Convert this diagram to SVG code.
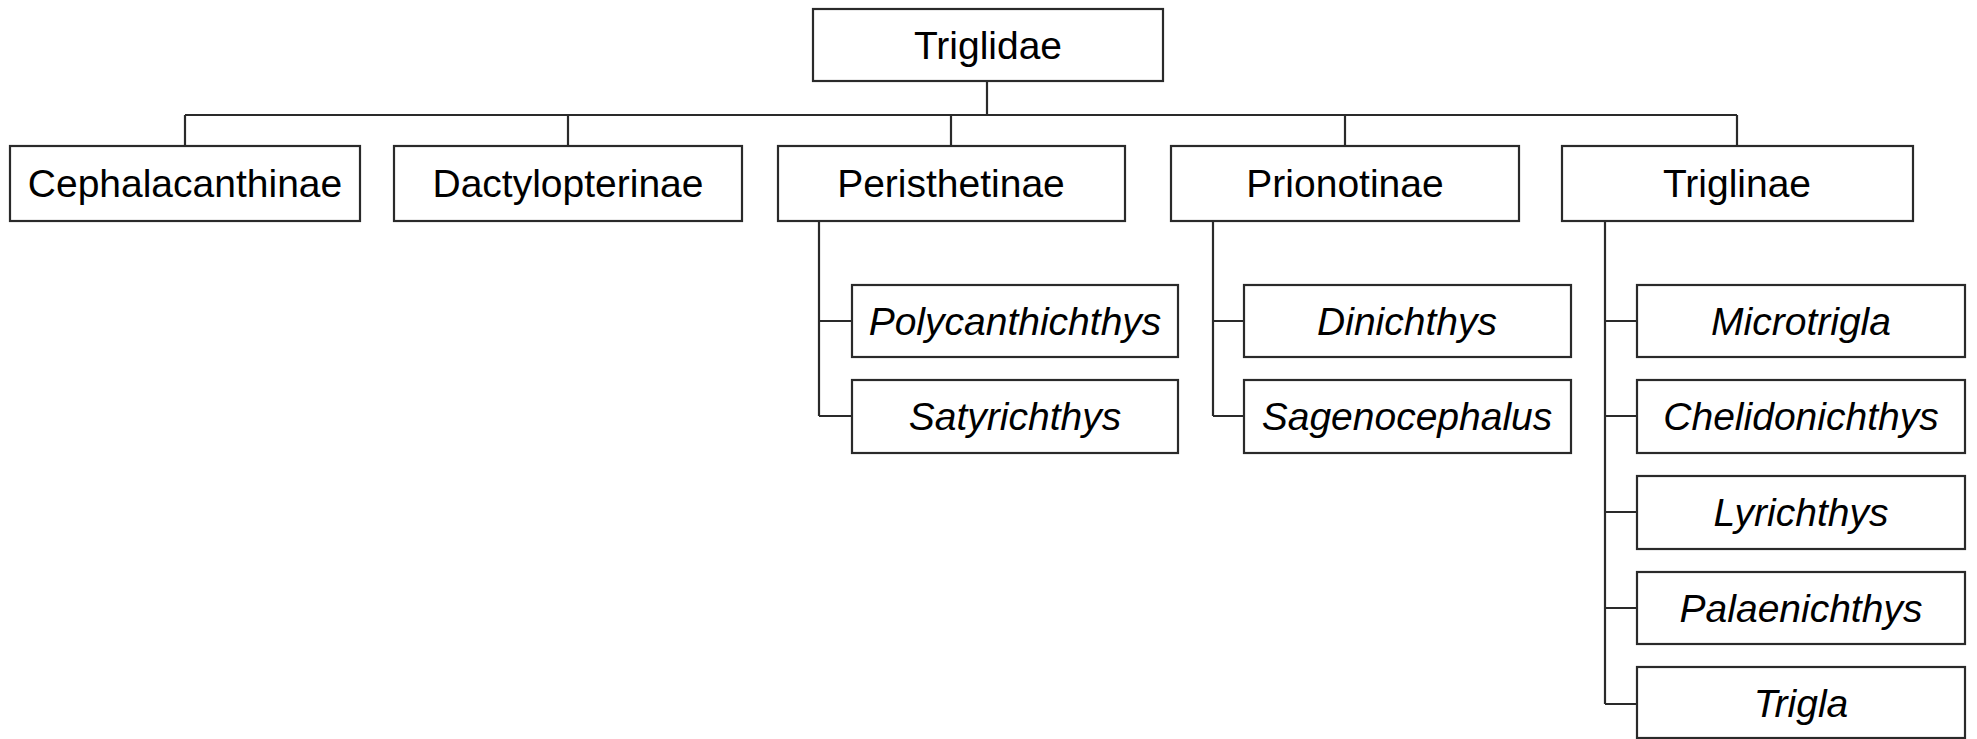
<svg xmlns="http://www.w3.org/2000/svg" width="1977" height="739" viewBox="0 0 1977 739">
<style>
.box{fill:#fff;stroke:#2a2a2a;stroke-width:2.2}
.ln{fill:none;stroke:#2a2a2a;stroke-width:2.2}
.t{font-family:"Liberation Sans",Arial,sans-serif;font-size:39px;fill:#000;text-anchor:middle}
.i{font-style:italic}
</style>
<rect width="1977" height="739" fill="#fff"/>
<g id="connectors" class="ln">
<path d="M987,81 V115 M185,115 H1737 M185,115 V146 M568,115 V146 M951,115 V146 M1345,115 V146 M1737,115 V146"/>
<path d="M819,221 V416 M819,321 H852 M819,416 H852"/>
<path d="M1213,221 V416 M1213,321 H1244 M1213,416 H1244"/>
<path d="M1605,221 V704 M1605,321 H1637 M1605,416 H1637 M1605,512 H1637 M1605,608 H1637 M1605,704 H1637"/>
</g>
<g id="n-triglidae"><rect class="box" x="813" y="9" width="350" height="72"/><text class="t" x="988" y="59">Triglidae</text></g>
<g id="n-cephalacanthinae"><rect class="box" x="10" y="146" width="350" height="75"/><text class="t" x="185" y="197">Cephalacanthinae</text></g>
<g id="n-dactylopterinae"><rect class="box" x="394" y="146" width="348" height="75"/><text class="t" x="568" y="197">Dactylopterinae</text></g>
<g id="n-peristhetinae"><rect class="box" x="778" y="146" width="347" height="75"/><text class="t" x="951" y="197">Peristhetinae</text></g>
<g id="n-prionotinae"><rect class="box" x="1171" y="146" width="348" height="75"/><text class="t" x="1345" y="197">Prionotinae</text></g>
<g id="n-triglinae"><rect class="box" x="1562" y="146" width="351" height="75"/><text class="t" x="1737" y="197">Triglinae</text></g>
<g id="n-polycanthichthys"><rect class="box" x="852" y="285" width="326" height="72"/><text class="t i" x="1015" y="335">Polycanthichthys</text></g>
<g id="n-satyrichthys"><rect class="box" x="852" y="380" width="326" height="73"/><text class="t i" x="1015" y="430">Satyrichthys</text></g>
<g id="n-dinichthys"><rect class="box" x="1244" y="285" width="327" height="72"/><text class="t i" x="1407" y="335">Dinichthys</text></g>
<g id="n-sagenocephalus"><rect class="box" x="1244" y="380" width="327" height="73"/><text class="t i" x="1407" y="430">Sagenocephalus</text></g>
<g id="n-microtrigla"><rect class="box" x="1637" y="285" width="328" height="72"/><text class="t i" x="1801" y="335">Microtrigla</text></g>
<g id="n-chelidonichthys"><rect class="box" x="1637" y="380" width="328" height="73"/><text class="t i" x="1801" y="430">Chelidonichthys</text></g>
<g id="n-lyrichthys"><rect class="box" x="1637" y="476" width="328" height="73"/><text class="t i" x="1801" y="526">Lyrichthys</text></g>
<g id="n-palaenichthys"><rect class="box" x="1637" y="572" width="328" height="72"/><text class="t i" x="1801" y="622">Palaenichthys</text></g>
<g id="n-trigla"><rect class="box" x="1637" y="667" width="328" height="71"/><text class="t i" x="1801" y="717">Trigla</text></g>
</svg>
